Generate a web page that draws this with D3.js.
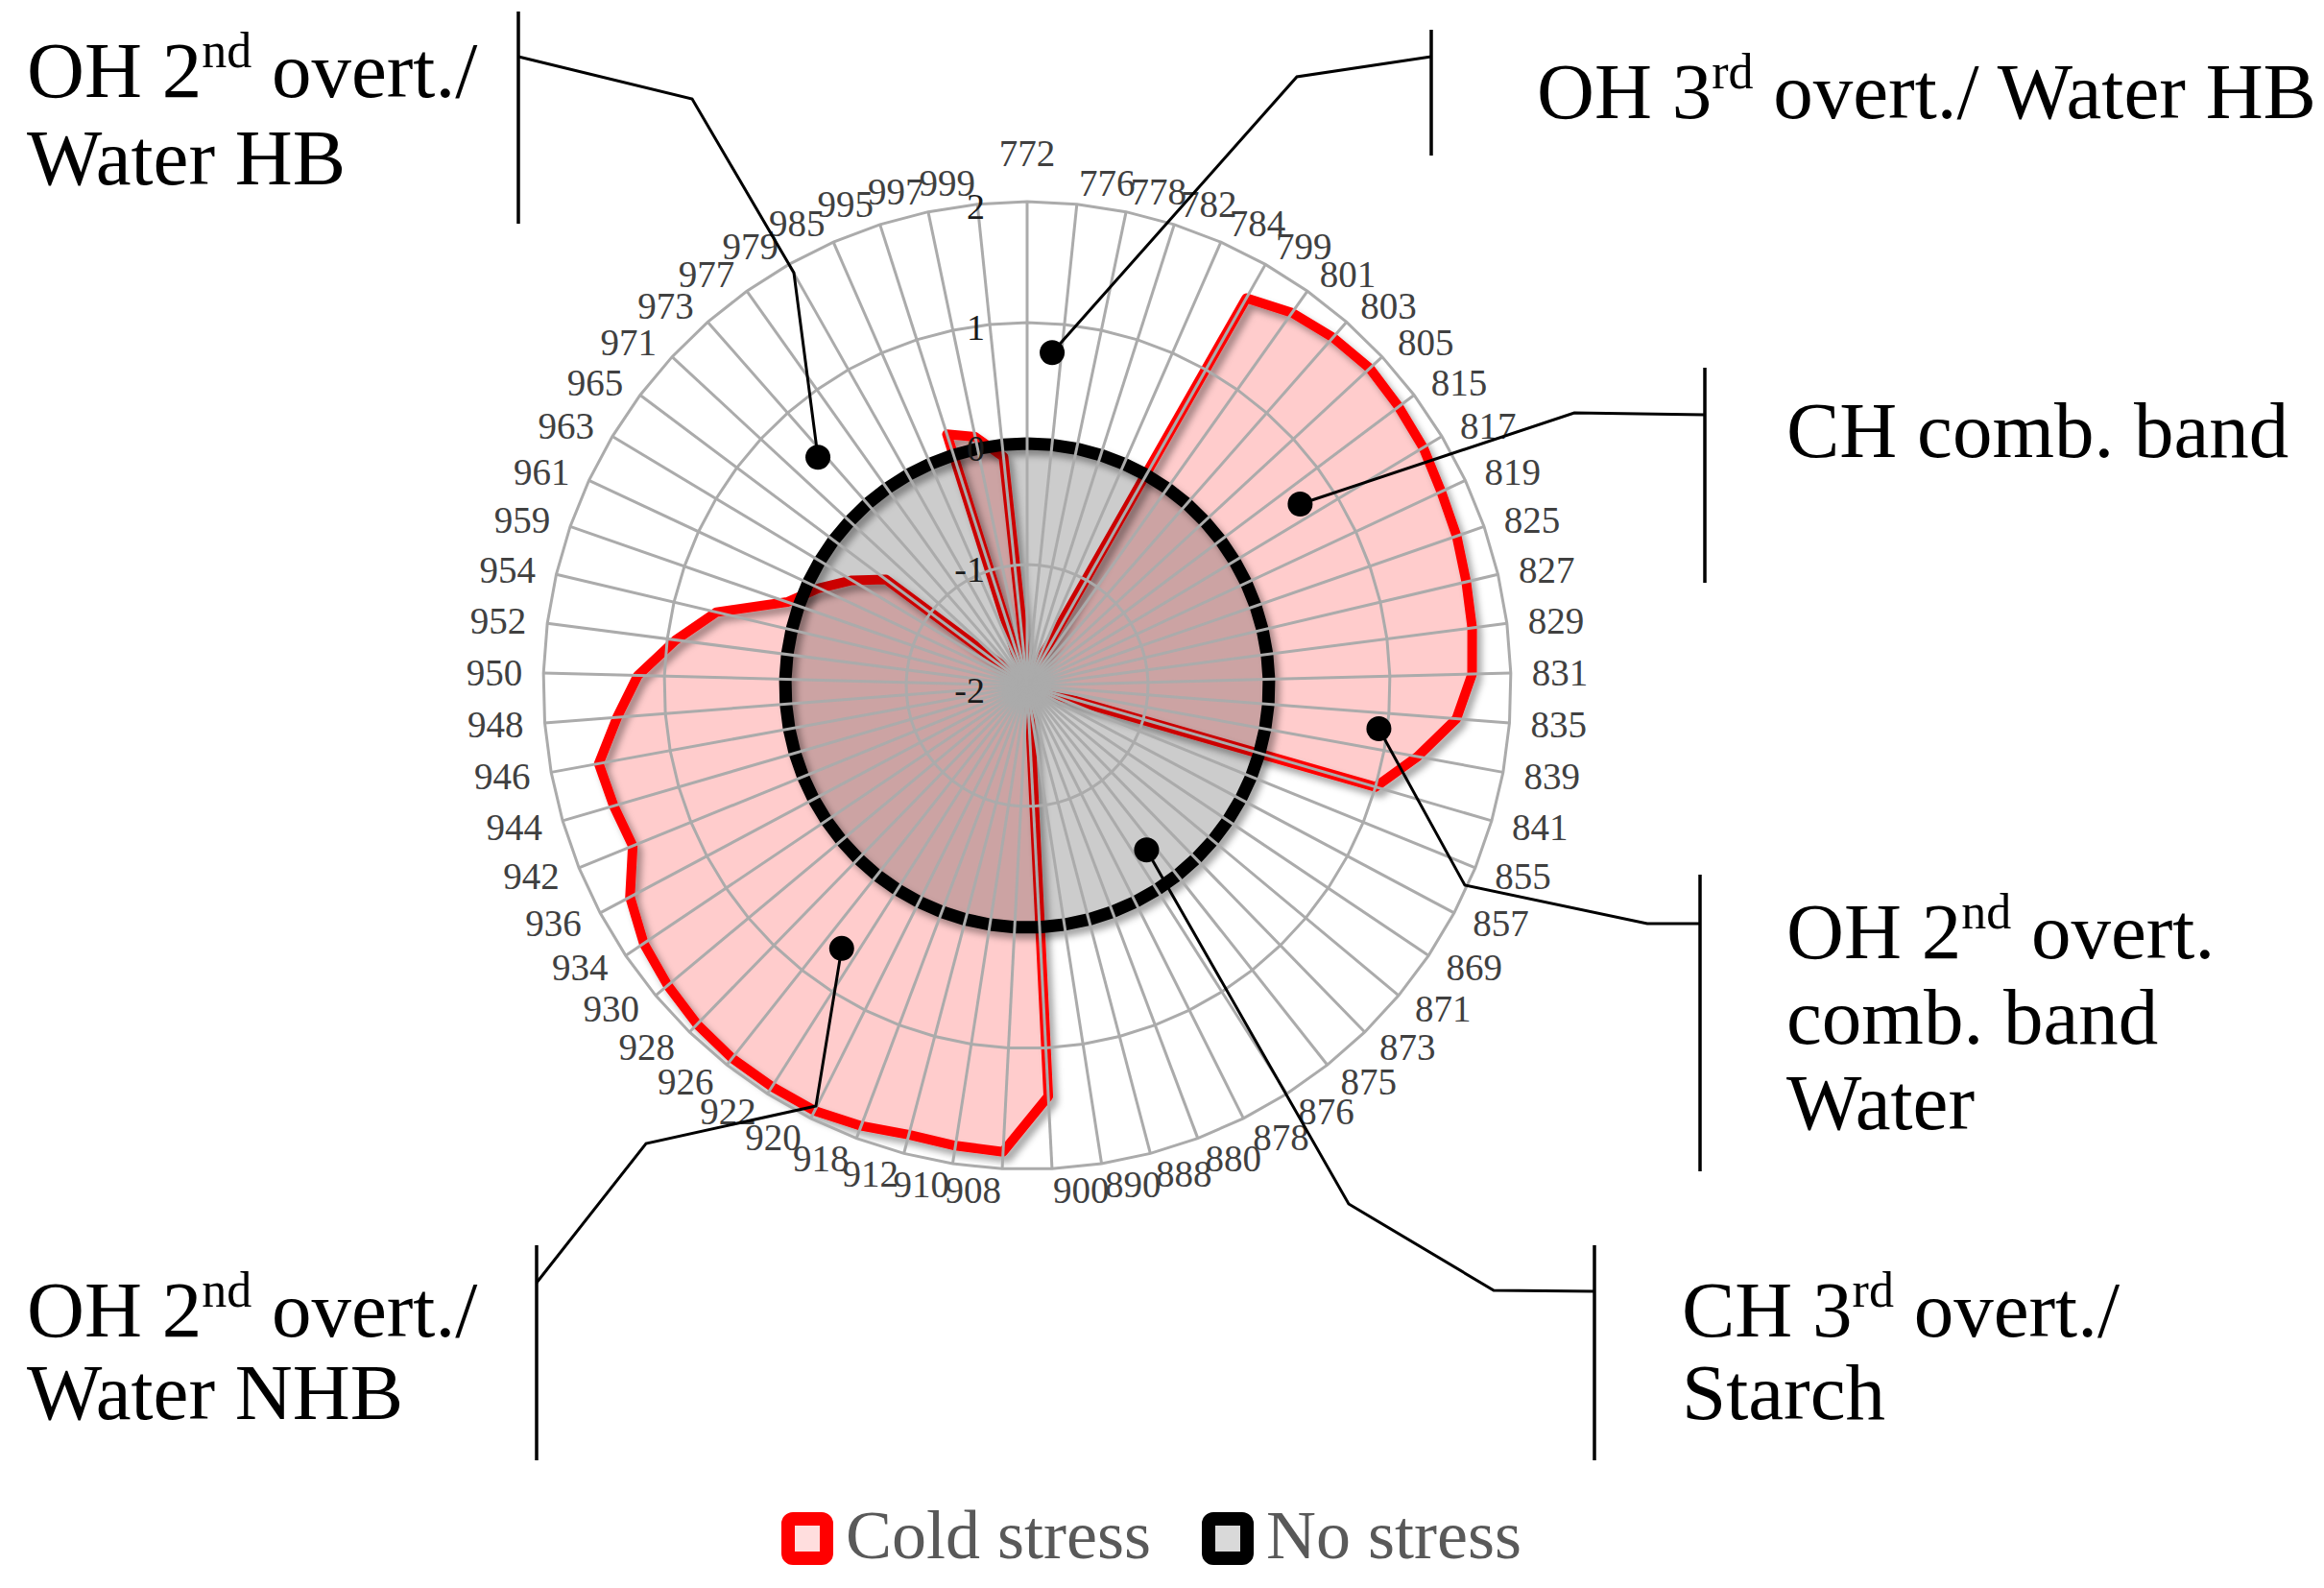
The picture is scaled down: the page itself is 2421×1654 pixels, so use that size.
<!DOCTYPE html>
<html>
<head>
<meta charset="utf-8">
<script src="https://cdn.jsdelivr.net/npm/d3@7"></script>
<style>
  html, body { margin: 0; padding: 0; background: #ffffff; }
  svg { display: block; }
  text { font-family: "Liberation Serif", "DejaVu Serif", serif; white-space: pre; }
</style>
</head>
<body>
<svg id="chart" width="2421" height="1654"></svg>
<script>
// ---------- data ----------
const categories = ["772","776","778","782","784","799","801","803","805","815","817","819","825","827","829","831","835","839","841","855","857","869","871","873","875","876","878","880","888","890","900","908","910","912","918","920","922","926","928","930","934","936","942","944","946","948","950","952","954","959","961","963","965","971","973","977","979","985","995","997","999"];

const coldStress = [-1.9,-1.9,-1.9,-1.9,-1.88,1.68,1.78,1.83,1.86,1.84,1.82,1.78,1.76,1.73,1.71,1.68,1.56,1.28,1.0,-1.9,-1.9,-1.9,-1.9,-1.9,-1.9,-1.9,-1.9,-1.9,-1.9,-1.9,1.4,1.86,1.85,1.84,1.89,1.93,1.93,1.93,1.91,1.87,1.82,1.72,1.52,1.56,1.6,1.4,1.22,0.93,0.64,0.1,-0.1,-0.31,-0.54,-1.9,-1.9,-1.9,-1.9,-1.9,0.18,0.1,-0.1];

const noStress = [0,0,0,0,0,0,0,0,0,0,0,0,0,0,0,0,0,0,0,0,0,0,0,0,0,0,0,0,0,0,0,0,0,0,0,0,0,0,0,0,0,0,0,0,0,0,0,0,0,0,0,0,0,0,0,0,0,0,0,0,0];

const seriesNames = ["Cold stress", "No stress"];
const valueTicks = [-2, -1, 0, 1, 2];

// annotation anchors: angle (deg, clockwise from top) and value on the radial axis
const annoAngle = [317.5, 4.3, 56.4, 97, 144, 215.2];
const annoValue = [0.56, 0.76, 0.71, 0.93, -0.32, 0.66];

// ---------- layout ----------
const W = 2421, H = 1654;
const cx = 1070, cy = 714, R = 504;
const svg = d3.select("#chart");

const rScale = d3.scaleLinear().domain([-2, 2]).range([0, R]);
const aScale = d3.scaleBand().domain(categories).range([0, 2 * Math.PI]).padding(0);
const ang = c => aScale(c);

const defs = svg.append("defs");
const f = defs.append("filter").attr("id", "shadow").attr("x", "-20%").attr("y", "-20%").attr("width", "140%").attr("height", "140%");
f.append("feDropShadow").attr("dx", 5).attr("dy", 6).attr("stdDeviation", 3.5)
  .attr("flood-color", "#000").attr("flood-opacity", 0.35);

const plot = svg.append("g").attr("transform", `translate(${cx},${cy})`);

const radial = d3.lineRadial()
  .angle(d => ang(d.cat))
  .radius(d => rScale(d.v))
  .curve(d3.curveLinearClosed);

const mk = vals => categories.map((c, i) => ({cat: c, v: vals[i]}));
const ringPath = t => radial(categories.map(c => ({cat: c, v: t})));

// zero ring (below the series)
plot.append("path").attr("d", ringPath(0))
  .attr("fill", "none").attr("stroke", "#ababab").attr("stroke-width", 3);

// series
const seriesStyle = [
  {fill: "rgba(255,0,0,0.2)", stroke: "#ff0000", width: 10},
  {fill: "rgba(0,0,0,0.2)", stroke: "#000000", width: 13}
];
const seriesData = [coldStress, noStress];
seriesData.forEach((vals, i) => {
  const g = plot.append("g");
  g.append("path")
    .attr("d", radial(mk(vals)))
    .attr("fill", seriesStyle[i].fill)
    .attr("stroke", "none");
  g.append("path")
    .attr("d", radial(mk(vals)))
    .attr("fill", "none")
    .attr("stroke", seriesStyle[i].stroke)
    .attr("stroke-width", seriesStyle[i].width)
    .attr("stroke-linejoin", "round")
    .attr("filter", "url(#shadow)");
});

// gridlines on top (rings other than zero, and spokes)
const grid = plot.append("g").attr("fill", "none").attr("stroke", "#ababab").attr("stroke-width", 3);
grid.selectAll("path.ring").data(valueTicks.filter(t => t !== -2 && t !== 0)).join("path")
  .attr("class", "ring")
  .attr("d", ringPath);
grid.selectAll("line.spoke").data(categories).join("line")
  .attr("class", "spoke")
  .attr("x1", 0).attr("y1", 0)
  .attr("x2", c => rScale(2) * Math.sin(ang(c)))
  .attr("y2", c => -rScale(2) * Math.cos(ang(c)));

// value axis labels
plot.selectAll("text.vt").data(valueTicks).join("text")
  .attr("class", "vt")
  .attr("x", -44)
  .attr("y", t => -rScale(t) + 5)
  .attr("text-anchor", "end")
  .attr("dominant-baseline", "central")
  .attr("font-size", 38)
  .attr("fill", "#1a1a1a")
  .text(t => t);

// category labels
const gap = 22;
plot.selectAll("text.cat").data(categories).join("text")
  .attr("class", "cat")
  .each(function(c) {
    const a = ang(c);
    const rr = rScale(2) + gap;
    const x = rr * Math.sin(a), y = -rr * Math.cos(a);
    const t = d3.select(this);
    const deg = a * 180 / Math.PI;
    if (deg < 0.01) {
      t.attr("x", x).attr("y", y - 15).attr("text-anchor", "middle");
    } else {
      t.attr("x", x).attr("y", y).attr("dominant-baseline", "central")
       .attr("text-anchor", deg < 180 ? "start" : "end");
    }
  })
  .attr("font-size", 39)
  .attr("fill", "#404040")
  .text(c => c);

// ---------- annotations ----------
const annoLabels = [
  [[["OH 2"],["nd",1],[" overt./"]], [["Water HB"]]],
  [[["OH 3"],["rd",1],[" overt./ Water HB"]]],
  [[["CH comb. band"]]],
  [[["OH 2"],["nd",1],[" overt."]], [["comb. band"]], [["Water"]]],
  [[["CH 3"],["rd",1],[" overt./"]], [["Starch"]]],
  [[["OH 2"],["nd",1],[" overt./"]], [["Water NHB"]]]
];
const annoTextPos = [[28, 101], [1601, 123], [1861, 476], [1861, 998], [1752, 1392], [28, 1392]];
const annoLineGap = [91, 0, 0, 89, 86, 86];
const annoBracket = [[540, 12, 233], [1491, 31, 162], [1776, 383, 607], [1771, 911, 1220], [1661, 1297, 1521], [559, 1297, 1521]];
const annoLeader = [
  [[540, 59], [721, 103], [827, 284]],
  [[1491, 59], [1351, 80]],
  [[1776, 432], [1640, 430]],
  [[1771, 962], [1716, 962], [1526, 922]],
  [[1661, 1345], [1556, 1344], [1405, 1254]],
  [[559, 1336], [673, 1191], [850, 1152]]
];

const ann = svg.append("g");
annoLabels.forEach((lines, i) => {
  const a = annoAngle[i] * Math.PI / 180;
  const rr = rScale(annoValue[i]);
  const dot = [cx + rr * Math.sin(a), cy - rr * Math.cos(a)];
  const pts = annoLeader[i].concat([dot]);
  ann.append("path")
    .attr("d", d3.line()(pts))
    .attr("fill", "none").attr("stroke", "#000").attr("stroke-width", 3);
  const b = annoBracket[i];
  ann.append("line").attr("x1", b[0]).attr("x2", b[0]).attr("y1", b[1]).attr("y2", b[2])
    .attr("stroke", "#000").attr("stroke-width", 3.5);
  ann.append("circle").attr("cx", dot[0]).attr("cy", dot[1]).attr("r", 13).attr("fill", "#000");
  lines.forEach((parts, li) => {
    const t = ann.append("text")
      .attr("x", annoTextPos[i][0])
      .attr("y", annoTextPos[i][1] + li * annoLineGap[i])
      .attr("font-size", 83)
      .attr("fill", "#000");
    let raised = false;
    parts.forEach(p => {
      const ts = t.append("tspan").text(p[0]);
      if (p[1]) { ts.attr("font-size", 52).attr("dy", -31); raised = true; }
      else if (raised) { ts.attr("dy", 31); raised = false; }
    });
  });
});

// ---------- legend ----------
const legendColors = [["#ff0000", "rgba(255,0,0,0.13)"], ["#000000", "#d9d9d9"]];
const legendX = [821, 1259];
const leg = svg.append("g");
seriesNames.forEach((n, i) => {
  leg.append("rect").attr("x", legendX[i]).attr("y", 1582).attr("width", 40).attr("height", 41)
    .attr("rx", 5).attr("fill", legendColors[i][1]).attr("stroke", legendColors[i][0]).attr("stroke-width", 14);
  leg.append("text").attr("x", legendX[i] + 60).attr("y", 1623)
    .attr("font-size", 72).attr("fill", "#595959").text(n);
});
</script>
</body>
</html>
